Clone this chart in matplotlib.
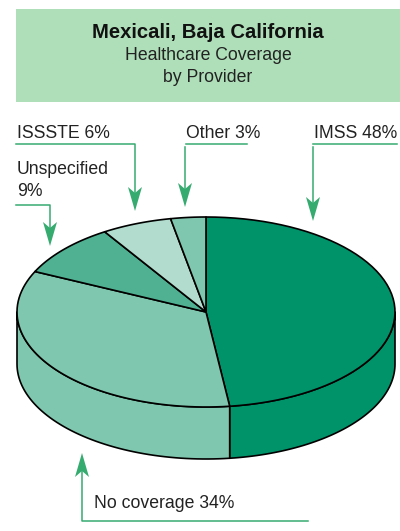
import matplotlib
matplotlib.use("Agg")
import matplotlib.pyplot as plt
import numpy as np

plt.rcParams['font.family'] = ['Liberation Sans', 'DejaVu Sans']

# clockwise from 12 o'clock
names = ["IMSS", "No coverage", "Unspecified", "ISSSTE", "Other"]
shares = [48, 34, 9, 6, 3]
colors = ["#00936a", "#7fc7ae", "#4fb092", "#b2dccd", "#7fc7ae"]

title = "Mexicali, Baja California"
subtitle = ["Healthcare Coverage", "by Provider"]

cx, cy = 206, 312
rx, ry = 189, 95
depth = 52
green = "#35ab70"


def rim(a):
    a = np.radians(a)
    return cx + rx*np.sin(a), cy - ry*np.cos(a)


def head(ax, x, tip, up=False):
    s = 1 if up else -1
    ax.fill([x, x-7, x, x+7], [tip, tip+s*24, tip+s*18, tip+s*24], color=green, lw=0, zorder=5)


fig = plt.figure(figsize=(4, 5.31), dpi=100)
ax = fig.add_axes([0, 0, 1, 1])
ax.set_xlim(0, 400)
ax.set_ylim(531, 0)
ax.axis('off')

# banner
ax.fill([16, 400, 400, 16], [9, 9, 102, 102], color="#aedfb8", lw=0)
ax.text(208, 32, title, ha='center', va='center', fontsize=14.6, fontweight='bold', color="#111111")
ax.text(208, 56, subtitle[0], ha='center', va='center', fontsize=12.7, color="#222222")
ax.text(208, 77, subtitle[1], ha='center', va='center', fontsize=12.7, color="#222222")

edges = np.cumsum([0] + shares) * 3.6

# side wall, only the front half of the rim shows
for i in range(len(shares)):
    a0, a1 = max(edges[i], 90), min(edges[i+1], 270)
    if a1 <= a0:
        continue
    t = np.linspace(a0, a1, 60)
    x, y = rim(t)
    ax.fill(np.r_[x, x[::-1]], np.r_[y, y[::-1] + depth], facecolor=colors[i],
            edgecolor='black', lw=1.2, joinstyle='round', zorder=2)

# top face
for i in range(len(shares)):
    t = np.linspace(edges[i], edges[i+1], 60)
    x, y = rim(t)
    ax.fill(np.r_[cx, x], np.r_[cy, y], facecolor=colors[i],
            edgecolor='black', lw=1.2, joinstyle='round', zorder=3)

# callouts
lw = 1.1
ax.plot([16, 135, 135], [144, 144, 195], color=green, lw=lw)
head(ax, 135, 211)
ax.plot([186, 247], [144, 144], color=green, lw=lw)
ax.plot([185, 185], [147, 195], color=green, lw=lw)
head(ax, 185, 207)
ax.plot([313, 397], [144, 144], color=green, lw=lw)
ax.plot([313, 313], [147, 205], color=green, lw=lw)
head(ax, 313, 221)
ax.plot([16, 50, 50], [205, 205, 230], color=green, lw=lw)
head(ax, 50, 246)
ax.plot([308, 82, 82], [521, 521, 470], color=green, lw=lw)
head(ax, 82, 453, up=True)

tc = "#222222"
fs = 12.7
ax.text(17, 133, f"{names[3]} {shares[3]}%", ha='left', va='center', fontsize=fs, color=tc)
ax.text(186, 133, f"{names[4]} {shares[4]}%", ha='left', va='center', fontsize=fs, color=tc)
ax.text(314, 133, f"{names[0]} {shares[0]}%", ha='left', va='center', fontsize=fs, color=tc)
ax.text(17, 169, names[2], ha='left', va='center', fontsize=fs, color=tc)
ax.text(17, 192, f"{shares[2]}%", ha='left', va='center', fontsize=fs, color=tc)
ax.text(94, 504, f"{names[1]} {shares[1]}%", ha='left', va='center', fontsize=fs, color=tc)

fig.savefig("out.png", dpi=100)
